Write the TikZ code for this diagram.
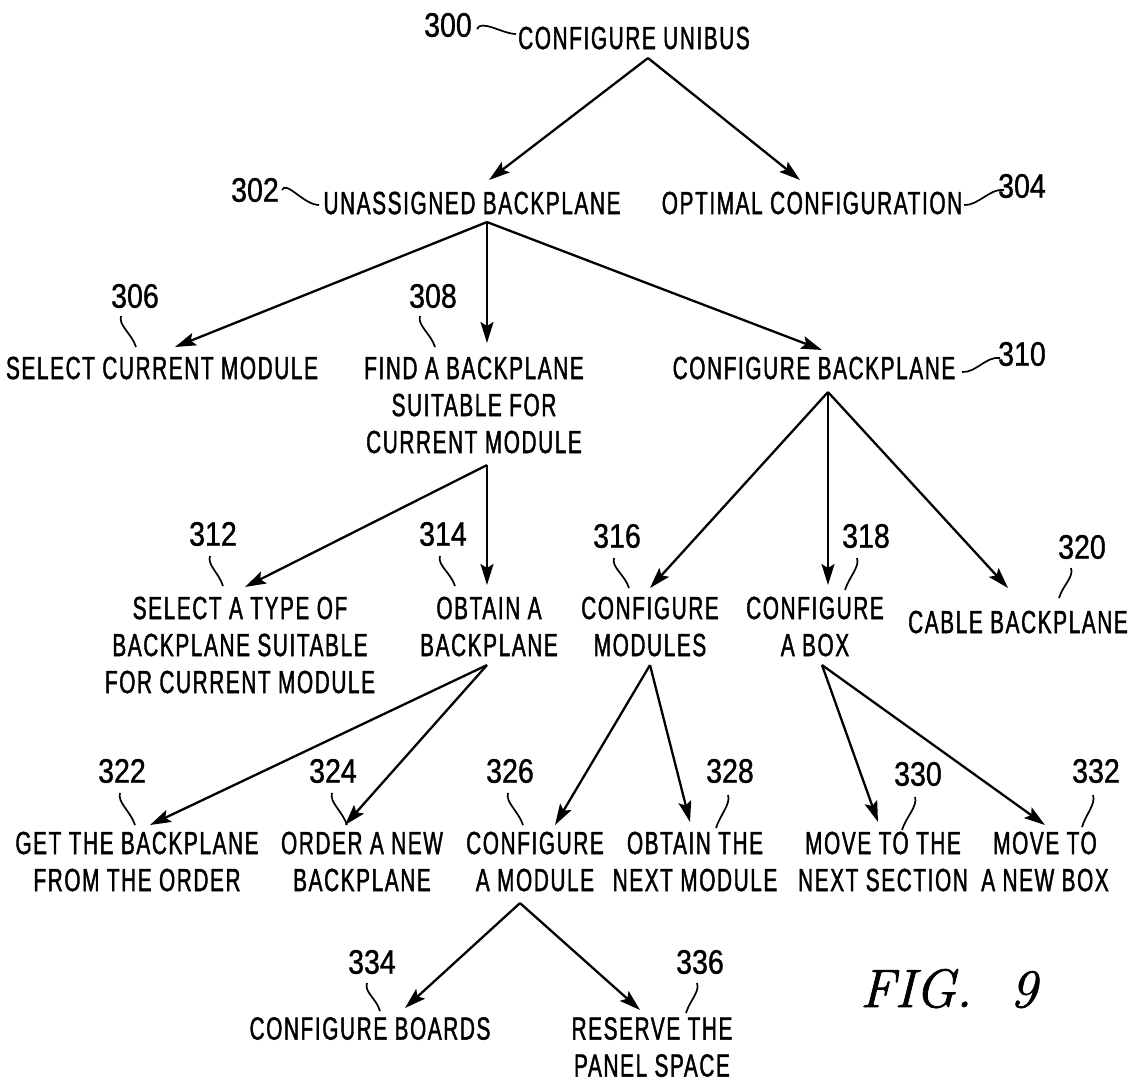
\documentclass[tikz,border=0pt]{standalone}
\usepackage{fontspec}
\newfontfamily\pfont{Liberation Sans}[FakeStretch=0.65,LetterSpace=5,FakeBold=1.3]
\newfontfamily\nfont{Liberation Sans}[FakeStretch=0.84,FakeBold=1.0]
\newfontfamily\figfont{Latin Modern Roman}[FakeBold=1.4]
\usetikzlibrary{arrows.meta}
\begin{document}
\begin{tikzpicture}[x=1pt,y=-1pt,
  txt/.style={font={\pfont\fontsize{32}{37}\selectfont}, inner sep=0pt, align=center, anchor=north},
  num/.style={font={\nfont\fontsize{34}{37}\selectfont}, inner sep=0pt},
  arr/.style={line width=2.3pt, -{Stealth[length=21pt,width=13pt,inset=4pt]}},
  sq/.style={line width=1.7pt}]
\fill[white] (0,0) rectangle (1135,1082);
\useasboundingbox (0,0) rectangle (1135,1082);

% text nodes
\node[txt] (n300) at (634,26.5) {CONFIGURE UNIBUS};
\node[txt] (n302) at (472,191.5) {UNASSIGNED BACKPLANE};
\node[txt] (n304) at (812,191.5) {OPTIMAL CONFIGURATION};
\node[txt] (n306) at (162,356.5) {SELECT CURRENT MODULE};
\node[txt] (n308) at (474,356.5) {FIND A BACKPLANE\\SUITABLE FOR\\CURRENT MODULE};
\node[txt] (n310) at (814,356.5) {CONFIGURE BACKPLANE};
\node[txt] (n312) at (240,596.5) {SELECT A TYPE OF\\BACKPLANE SUITABLE\\FOR CURRENT MODULE};
\node[txt] (n314) at (489,596.5) {OBTAIN A\\BACKPLANE};
\node[txt] (n316) at (650,596.5) {CONFIGURE\\MODULES};
\node[txt] (n318) at (815,596.5) {CONFIGURE\\A BOX};
\node[txt] (n320) at (1018,610.5) {CABLE BACKPLANE};
\node[txt] (n322) at (137,831.5) {GET THE BACKPLANE\\FROM THE ORDER};
\node[txt] (n324) at (362,831.5) {ORDER A NEW\\BACKPLANE};
\node[txt] (n326) at (535,831.5) {CONFIGURE\\A MODULE};
\node[txt] (n328) at (695,831.5) {OBTAIN THE\\NEXT MODULE};
\node[txt] (n330) at (883,831.5) {MOVE TO THE\\NEXT SECTION};
\node[txt] (n332) at (1045,831.5) {MOVE TO\\A NEW BOX};
\node[txt] (n334) at (370,1017) {CONFIGURE BOARDS};
\node[txt] (n336) at (652,1017) {RESERVE THE\\PANEL SPACE};

\node[anchor=base west, inner sep=0pt, font={\figfont\fontsize{54}{54}\selectfont\itshape}] (fig) at (860,1007) {FIG.\hspace{38pt}9};

% reference numerals
\node[num] (l300) at (448,25) {300};
\node[num] (l302) at (255,190) {302};
\node[num] (l304) at (1022,186) {304};
\node[num] (l306) at (135,296) {306};
\node[num] (l308) at (433,296) {308};
\node[num] (l310) at (1022,354) {310};
\node[num] (l312) at (213,534) {312};
\node[num] (l314) at (443,534) {314};
\node[num] (l316) at (617,536) {316};
\node[num] (l318) at (866,536) {318};
\node[num] (l320) at (1082,547) {320};
\node[num] (l322) at (122,771) {322};
\node[num] (l324) at (333,771) {324};
\node[num] (l326) at (510,771) {326};
\node[num] (l328) at (730,771) {328};
\node[num] (l330) at (918,774) {330};
\node[num] (l332) at (1096,771) {332};
\node[num] (l334) at (372,962) {334};
\node[num] (l336) at (700,962) {336};

% leader squiggles
\draw[sq] (477,29) .. controls (481,19) and (503,34) .. (516,34);
\draw[sq] (282,190) .. controls (286,180) and (304,205) .. (319,205);
\draw[sq] (964,205) .. controls (978,206) and (990,188) .. (1004,190);
\draw[sq] (962,372) .. controls (976,373) and (986,356) .. (1000,358);
\foreach \a/\b in {{121,316}/{136,347},{420,316}/{435,347},{210,556}/{223,586},{440,556}/{455,586},{614,558}/{629,588},{120,793}/{135,825},{332,793}/{347,825},{508,793}/{523,825},{367,983}/{380,1011}}
  \draw[sq] (\a) .. controls +(-3,9) and +(-4,-13) .. (\b);
\foreach \a/\b in {{857,558}/{845,590},{1071,568}/{1059,598},{728,795}/{716,828},{915,797}/{902,830},{1093,795}/{1082,827},{697,983}/{686,1013}}
  \draw[sq] (\a) .. controls +(3,9) and +(4,-13) .. (\b);

% apexes
\coordinate (a300) at ([xshift=14,yshift=-8.5]n300.south);
\coordinate (a302) at ([xshift=15,yshift=-7.5]n302.south);
\coordinate (a308) at ([xshift=13,yshift=-11.5]n308.south);
\coordinate (a310) at ([xshift=14,yshift=-12.5]n310.south);
\coordinate (a314) at ([xshift=-2,yshift=-8.5]n314.south);
\coordinate (a316) at ([yshift=-8.5]n316.south);
\coordinate (a318) at ([xshift=7,yshift=-8.5]n318.south);
\coordinate (a326) at ([xshift=-15,yshift=-11.5]n326.south);

% connectors
\draw[arr] (a300) -- ([xshift=17,yshift=11.5]n302.north);
\draw[arr] (a300) -- ([xshift=-12,yshift=11.5]n304.north);
\draw[arr] (a302) -- ([xshift=13,yshift=9.5]n306.north);
\draw[arr] (a302) -- ([xshift=13,yshift=13.5]n308.north);
\draw[arr] (a302) -- ([xshift=8,yshift=6.5]n310.north);
\draw[arr] (a308) -- ([xshift=5,yshift=9.5]n312.north);
\draw[arr] (a308) -- ([xshift=-2,yshift=11.5]n314.north);
\draw[arr] (a310) -- ([xshift=0,yshift=8.5]n316.north);
\draw[arr] (a310) -- ([xshift=13,yshift=11.5]n318.north);
\draw[arr] (a310) -- ([xshift=-10,yshift=22.5]n320.north);
\draw[arr] (a314) -- ([xshift=13,yshift=6.5]n322.north);
\draw[arr] (a314) -- ([xshift=-17,yshift=6.5]n324.north);
\draw[arr] (a316) -- ([xshift=20,yshift=6.5]n326.north);
\draw[arr] (a316) -- ([xshift=-5,yshift=9.5]n328.north);
\draw[arr] (a318) -- ([xshift=-5,yshift=9.5]n330.north);
\draw[arr] (a318) -- ([xshift=0,yshift=6.5]n332.north);
\draw[arr] (a326) -- ([xshift=35,yshift=9]n334.north);
\draw[arr] (a326) -- ([xshift=-12,yshift=7]n336.north);
\end{tikzpicture}
\end{document}
